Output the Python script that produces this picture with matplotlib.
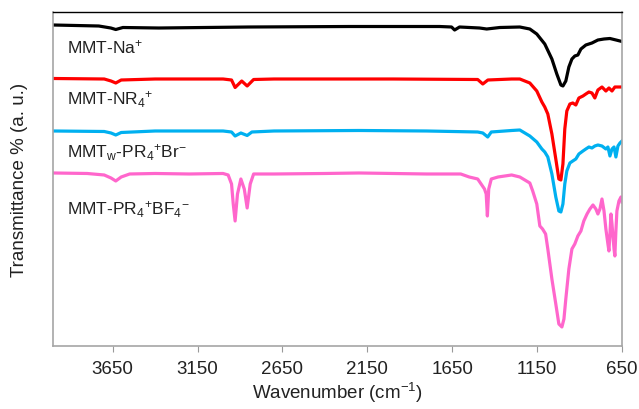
import matplotlib
matplotlib.use("Agg")
import matplotlib.pyplot as plt

plt.rcParams['font.family'] = ['Liberation Sans', 'DejaVu Sans']
plt.rcParams['mathtext.fontset'] = 'custom'
plt.rcParams['mathtext.rm'] = 'Liberation Sans'
plt.rcParams['mathtext.it'] = 'Liberation Sans'

# --- spectra (wavenumber in cm-1, transmittance in a.u.) ---
na_wn = [4000, 3732, 3661, 3632, 3590, 3378, 2847, 2256, 1725, 1654, 1636, 1607, 1489, 1447,
         1370, 1252, 1193, 1152, 1105, 1063, 1034, 1010, 998, 981, 963, 945, 928, 910, 892,
         863, 827, 792, 756, 721, 685, 650]
na_t = [324, 323, 321, 319.5, 321.5, 321, 322, 322.5, 322.5, 322, 319, 322, 321, 320,
        321.5, 322, 320, 315, 305, 290, 275, 264, 263, 268, 282, 290, 293, 294, 300,
        304, 306, 309, 310, 310.5, 309, 307.5]

nr_wn = [4000, 3700, 3660, 3632, 3600, 3400, 3000, 2950, 2929, 2890, 2858, 2820, 2700, 2000,
         1500, 1470, 1440, 1300, 1252, 1193, 1152, 1122, 1105, 1087, 1063, 1040, 1022, 1010,
         998, 987, 975, 957, 940, 922, 904, 880, 863, 845, 827, 810, 792, 768, 745, 727,
         709, 692, 674, 650]
nr_t = [270.5, 270, 268, 266, 269, 270, 270, 269, 261.5, 268, 263, 269.5, 270, 270,
        269.5, 265, 269, 270, 270, 266, 258, 247, 242, 235, 215, 190, 170, 169,
        185, 220, 238, 245, 246, 244, 251, 253, 255, 257, 256, 251, 259, 262, 258, 261,
        258, 262, 262, 262]

br_wn = [4000, 3700, 3660, 3632, 3600, 3400, 3000, 2950, 2929, 2895, 2858, 2830, 2700, 2200,
         1800, 1500, 1470, 1441, 1420, 1300, 1252, 1193, 1152, 1122, 1105, 1087, 1063, 1040,
         1022, 1010, 998, 987, 975, 957, 940, 922, 904, 880, 863, 845, 827, 810, 792, 768,
         745, 733, 721, 709, 697, 686, 674, 662, 650]
br_t = [218, 217.5, 216, 214, 216.5, 218, 218, 217, 213, 216, 213.5, 217, 218, 218.5,
        218, 217, 216, 212, 217, 218.5, 219, 213, 207, 200, 197, 192, 175, 152,
        138, 137, 145, 165, 178, 186, 188, 190, 195, 198, 200, 202, 201, 203, 204, 203,
        200, 202, 193, 200, 202, 192, 203, 206, 208]

bf_wn = [4000, 3800, 3700, 3660, 3632, 3600, 3550, 3400, 3200, 3000, 2970, 2950, 2940, 2929,
         2915, 2895, 2875, 2858, 2840, 2820, 2700, 2400, 2200, 2000, 1800, 1600, 1550, 1500,
         1480, 1460, 1450, 1443, 1435, 1420, 1380, 1300, 1252, 1193, 1176, 1152, 1134, 1118,
         1100, 1087, 1063, 1040, 1022, 1004, 992, 981, 963, 945, 928, 910, 892, 875, 856,
         839, 821, 804, 792, 780, 768, 756, 745, 733, 727, 721, 715, 709, 703, 697, 692,
         686, 680, 668, 656, 650]
bf_t = [176, 175.5, 174, 171, 168, 172, 175, 175.5, 175, 175.5, 174, 165, 145, 128,
        155, 170, 160, 141, 165, 175, 175, 175.5, 176, 175.5, 175, 175, 172, 170,
        165, 160, 155, 133, 160, 170, 172, 174, 172, 166, 158, 145, 123, 120,
        115, 100, 70, 45, 25, 22, 30, 50, 80, 100, 105, 113, 118, 128, 135,
        140, 144, 140, 135, 140, 150, 138, 120, 105, 98, 115, 135, 125, 112, 100, 93,
        118, 138, 148, 152, 147]

samples = ['MMT-Na$^{+}$', 'MMT-NR$_{4}$$^{+}$', 'MMT$_{w}$-PR$_{4}$$^{+}$Br$^{-}$',
           'MMT-PR$_{4}$$^{+}$BF$_{4}$$^{-}$']
colors = ['#000000', '#FF0000', '#00B0F0', '#FF66CC']
label_t = [303, 250, 197, 140]

fig = plt.figure(figsize=(6.39, 4.10), dpi=100)
ax = fig.add_axes([0.0834, 0.153, 0.890, 0.8165])

spectra = [(na_wn, na_t), (nr_wn, nr_t), (br_wn, br_t), (bf_wn, bf_t)]
for (wn, t), c, name, ty in zip(spectra, colors, samples, label_t):
    ax.plot(wn, t, color=c, linewidth=2.3, solid_joinstyle='round')
    ax.text(3920, ty, name, fontsize=12.5, color='#222222', va='center', ha='left')

ax.set_xlim(4000, 650)
ax.set_ylim(2.7, 337.5)
ax.set_xticks([3650, 3150, 2650, 2150, 1650, 1150, 650])
ax.set_yticks([])
ax.tick_params(axis='x', direction='out', length=4, color='#999999',
               labelsize=13.5, labelcolor='#222222', pad=6)

for side in ['left', 'bottom', 'right']:
    ax.spines[side].set_color('#A6A6A6')
    ax.spines[side].set_linewidth(1.2)
ax.spines['top'].set_color('#000000')
ax.spines['top'].set_linewidth(1.0)

ax.set_xlabel('Wavenumber (cm$^{-1}$)', fontsize=13.5, color='#222222', labelpad=2)
ax.set_ylabel('Transmittance % (a. u.)', fontsize=13.5, color='#222222', labelpad=18)

fig.savefig('out.png', dpi=100)
